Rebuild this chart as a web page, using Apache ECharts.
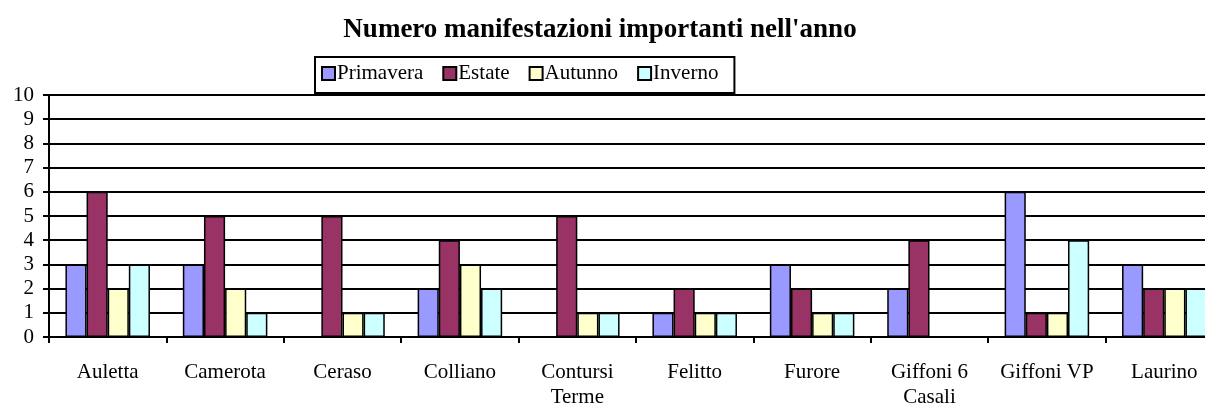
<!DOCTYPE html>
<html><head><meta charset="utf-8">
<script src="https://cdn.jsdelivr.net/npm/echarts@6/dist/echarts.min.js"></script>
<style>html,body{margin:0;padding:0;background:#fff;overflow:hidden}#c{width:1224px;height:410px}</style>
</head><body><div id="c"></div>
<script>
const categories = ['Auletta','Camerota','Ceraso','Colliano','Contursi\nTerme','Felitto','Furore','Giffoni 6\nCasali','Giffoni VP','Laurino'];
const primavera = [3,3,0,2,0,1,3,2,6,3];
const estate    = [6,5,5,4,5,2,2,4,1,2];
const autunno   = [2,2,1,3,1,1,1,0,1,2];
const inverno   = [3,1,1,2,1,1,1,0,4,2];
const yTicks = {min:0, max:10, interval:1};

const font = 'Liberation Serif, Times New Roman, serif';
const mk = (name, data, color) => ({
  name, type:'bar', data, barGap:'0%', barCategoryGap:'28%',
  itemStyle:{color, borderColor:'#000', borderWidth:1.5},
  emphasis:{disabled:true}
});
const chart = echarts.init(document.getElementById('c'), null, {renderer:'canvas', width:1224, height:410});
chart.setOption({
  animation:false,
  backgroundColor:'#fff',
  title:{text:"Numero manifestazioni importanti nell'anno", left:595, textAlign:'center', top:12,
    textStyle:{fontFamily:font, fontWeight:'bold', fontSize:27, color:'#000'}},
  legend:{left:315, top:57, orient:'horizontal', icon:'rect', itemWidth:13, itemHeight:13, itemGap:19,
    padding:[6,16,9,6], borderColor:'#000', borderWidth:2, backgroundColor:'#fff',
    textStyle:{fontFamily:font, fontSize:21, color:'#000', padding:[0,0,0,-3]},
    data:['Primavera','Estate','Autunno','Inverno']},
  grid:{left:49, top:95, height:246, right:1, containLabel:false},
  xAxis:{type:'category', data:categories,
    axisLine:{lineStyle:{color:'#000', width:2}},
    axisTick:{show:true, length:6, lineStyle:{color:'#000', width:2}},
    axisLabel:{fontFamily:font, fontSize:21, color:'#000', margin:23, lineHeight:25, interval:0}},
  yAxis:{type:'value', min:yTicks.min, max:yTicks.max, interval:yTicks.interval,
    axisLine:{show:true, lineStyle:{color:'#000', width:2}},
    axisTick:{show:true, length:6, lineStyle:{color:'#000', width:2}},
    splitLine:{show:true, lineStyle:{color:'#000', width:2}},
    axisLabel:{fontFamily:font, fontSize:21, color:'#000', margin:15}},
  series:[mk('Primavera',primavera,'#9999FF'), mk('Estate',estate,'#993366'),
          mk('Autunno',autunno,'#FFFFCC'), mk('Inverno',inverno,'#CCFFFF')]
});
</script></body></html>
